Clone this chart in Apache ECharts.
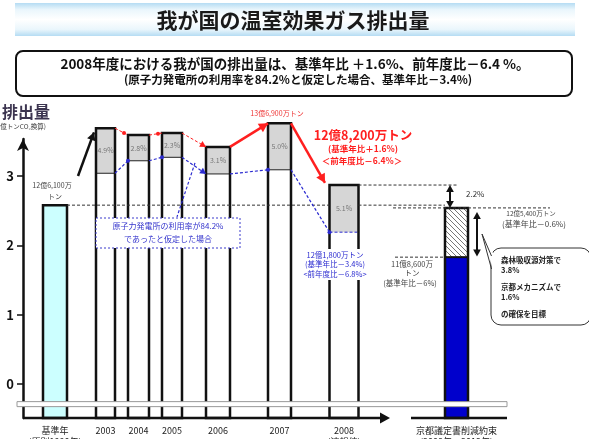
<!DOCTYPE html>
<html>
<head>
<meta charset="utf-8">
<script src="https://cdn.jsdelivr.net/npm/echarts@6/dist/echarts.min.js"></script>
<style>
html,body{margin:0;padding:0;background:#fff;}
#main{width:589px;height:439px;}
</style>
</head>
<body>
<div id="main"></div>
<script>
// data (axis units as printed on the chart)
var labels = ['基準年\n(原則1990年)', '2003', '2004', '2005', '2006', '2007', '2008\n(速報値)', '京都議定書削減約束\n(2008年～2012年)'];
var emis = [2.58, 3.69, 3.59, 3.62, 3.42, 3.76, 2.87, 2.54];          // bar tops
var adjusted = [null, 3.04, 3.22, 3.27, 3.03, 3.09, 2.19, null];     // 原子力84.2%の場合
var pct = ['', '4.9%', '2.8%', '2.3%', '3.1%', '5.0%', '5.1%', ''];
var kyotoBlue = 1.83;
var yTicks = [0, 1, 2, 3];

// layout
var slot = [3.2, 8.25, 11.55, 14.9, 19.5, 25.65, 32.1, 43.35];
var barW = [2.4, 1.9, 2.1, 2.0, 2.4, 2.3, 2.9, 2.3];
var Y_MIN = -0.49, Y_MAX = 3.534;
var FONT = '"Noto Sans CJK JP"';
var RED = '#ff1f1f', BLUE = '#2b2bd0';

function L(i){ return slot[i] - barW[i] / 2; }
function R(i){ return slot[i] + barW[i] / 2; }

// hatch pattern
var hc = document.createElement('canvas');
hc.width = 5; hc.height = 5;
var hx = hc.getContext('2d');
hx.fillStyle = '#fff'; hx.fillRect(0, 0, 5, 5);
hx.strokeStyle = '#777'; hx.lineWidth = 1;
hx.beginPath(); hx.moveTo(0, 0); hx.lineTo(5, 5); hx.moveTo(-1, 4); hx.lineTo(1, 6); hx.moveTo(4, -1); hx.lineTo(6, 1); hx.stroke();
var hatch = { image: hc, repeat: 'repeat' };

function arrowHead(tip, from, size, color){
  var dx = tip[0] - from[0], dy = tip[1] - from[1];
  var len = Math.sqrt(dx * dx + dy * dy);
  var ux = dx / len, uy = dy / len;
  var bx = tip[0] - ux * size, by = tip[1] - uy * size;
  var px = -uy * size * 0.55, py = ux * size * 0.55;
  return { type: 'polygon', shape: { points: [tip, [bx + px, by + py], [bx - px, by - py]] }, style: { fill: color } };
}
function seg(a, b, color, w, dash){
  return { type: 'line', shape: { x1: a[0], y1: a[1], x2: b[0], y2: b[1] }, style: { stroke: color, lineWidth: w, lineDash: dash || null } };
}
function dot(p, color){
  return { type: 'circle', shape: { cx: p[0], cy: p[1], r: 2 }, style: { fill: color } };
}

function barItem(params, api){
  var i = api.value(0);
  var p0 = api.coord([L(i), Y_MIN]);
  var p1 = api.coord([R(i), emis[i]]);
  var x = p0[0], w = p1[0] - p0[0], yb = p0[1], yt = p1[1];
  var kids = [];
  if (i === 0) {
    kids.push({ type: 'rect', shape: { x: x, y: yt, width: w, height: yb - yt }, style: { fill: '#ccffff' } });
  } else if (i === 7) {
    var ym = api.coord([0, kyotoBlue])[1];
    kids.push({ type: 'rect', shape: { x: x, y: yt, width: w, height: ym - yt }, style: { fill: hatch } });
    kids.push({ type: 'rect', shape: { x: x, y: ym, width: w, height: yb - ym }, style: { fill: '#0000cc' } });
    kids.push(seg([x, ym], [x + w, ym], '#111', 2));
  } else {
    var ya = api.coord([0, adjusted[i]])[1];
    kids.push({ type: 'rect', shape: { x: x, y: yt, width: w, height: yb - yt }, style: { fill: '#fff' } });
    kids.push({ type: 'rect', shape: { x: x, y: yt, width: w, height: ya - yt }, style: { fill: '#d6d6d6' } });
    if (i === 6) kids.push(seg([x, ya], [x + w, ya], BLUE, 1, [3, 2]));
    else kids.push(seg([x, ya], [x + w, ya], '#222', 1));
    kids.push({ type: 'text', x: x + w / 2, y: (yt + ya) / 2, style: { text: pct[i], fill: '#777', font: '7px ' + FONT, align: 'center', verticalAlign: 'middle' } });
  }
  kids.push({ type: 'rect', shape: { x: x, y: yt, width: w, height: yb - yt }, style: { fill: 'none', stroke: '#111', lineWidth: 2.5 } });
  return { type: 'group', children: kids };
}

function annoItem(params, api){
  var c = function(xv, yv){ return api.coord([xv, yv]); };
  var k = [];
  // dashed reference levels
  k.push(seg(c(R(0), emis[0]), c(L(6), emis[0]), '#333', 1, [3, 2]));
  k.push(seg(c(R(6), emis[0]), c(42.2, emis[0]), '#333', 1, [3, 2]));
  k.push(seg(c(R(6), emis[6]), c(43.5, emis[6]), '#333', 1, [3, 2]));
  k.push(seg(c(37.0, emis[7]), c(52.7, emis[7]), '#333', 1, [3, 2]));
  k.push(seg(c(37.2, kyotoBlue), c(L(7), kyotoBlue), '#333', 1, [3, 2]));
  // red connectors (actual emissions)
  for (var i = 1; i <= 5; i++) {
    var a = c(R(i), emis[i]), b = c(L(i + 1), emis[i + 1]);
    if (i <= 2) { k.push(seg(a, b, RED, 1, [3, 2])); k.push(dot([b[0] - 4, b[1] - (b[1] - a[1]) * 0.3], RED)); }
    else if (i === 3) { k.push(seg(a, b, RED, 1, [3, 2])); k.push(arrowHead(b, a, 6, RED)); }
    else {
      if (i === 5) b = c(L(6) - 0.45, emis[6] + 0.03);
      k.push(seg(a, b, RED, 2.5)); k.push(arrowHead(b, a, 9, RED));
    }
  }
  // blue connectors (nuclear 84.2% case)
  for (var j = 1; j <= 5; j++) {
    var a2 = c(R(j), adjusted[j]), b2 = c(L(j + 1), adjusted[j + 1]);
    k.push(seg(a2, b2, BLUE, 1.2, [3, 2]));
    if (j === 3) k.push(arrowHead(b2, a2, 6, BLUE));
    else k.push(dot(b2, BLUE));
  }
  // pointer from note box
  k.push(seg(c(17.2, 3.19), c(15.4, 2.41), BLUE, 1.2, [3, 2]));
  // black arrow base year -> 2003
  var s0 = c(5.5, 3.0), s1 = c(7.1, emis[1] - 0.06);
  k.push(seg(s0, s1, '#111', 2.5)); k.push(arrowHead(s1, s0, 8, '#111'));
  // double arrows at Kyoto
  var d1 = c(42.7, emis[6]), d2 = c(42.7, emis[7]);
  k.push(seg([d1[0], d1[1] + 5], [d2[0], d2[1] - 5], '#111', 2));
  k.push(arrowHead(d1, d2, 7, '#111')); k.push(arrowHead(d2, d1, 7, '#111'));
  var e1 = c(45.4, emis[7] - 0.06), e2 = c(45.4, kyotoBlue + 0.01);
  k.push(seg([e1[0], e1[1] + 5], [e2[0], e2[1] - 5], '#111', 2));
  k.push(arrowHead(e1, e2, 7, '#111')); k.push(arrowHead(e2, e1, 7, '#111'));
  // axis break band
  var bl = c(-0.6, -0.29), br = c(48.4, -0.29);
  k.push({ type: 'rect', shape: { x: bl[0], y: bl[1] - 2.5, width: br[0] - bl[0], height: 5 }, style: { fill: '#fff', stroke: '#999', lineWidth: 1 } });
  // x axis lines
  var x0 = c(0, Y_MIN), x1 = c(36.7, Y_MIN);
  k.push(seg(x0, [x1[0] - 6, x1[1]], '#111', 2.5)); k.push(arrowHead(x1, x0, 10, '#111'));
  k.push(seg(c(38.8, Y_MIN), c(48.4, Y_MIN), '#111', 2.5));
  return { type: 'group', children: k };
}

var chart = echarts.init(document.getElementById('main'));
var T = function(x, y, text, size, color, opt){
  var st = { text: text, font: (opt && opt.bold ? 'bold ' : '') + size + 'px ' + FONT, fill: color, align: (opt && opt.align) || 'center', verticalAlign: 'middle' };
  return { type: 'text', x: x, y: y, z: 100, style: st };
};
var option = {
  animation: false,
  textStyle: { fontFamily: FONT },
  grid: { left: 23, right: 82, top: 139, bottom: 21, outerBoundsMode: 'none', containLabel: false },
  xAxis: {
    type: 'value', min: 0, max: 48.4,
    axisLine: { show: false }, axisTick: { show: false }, splitLine: { show: false },
    axisLabel: {
      customValues: slot, margin: 7, fontSize: 9, lineHeight: 11, color: '#222',
      formatter: function(v){
        for (var i = 0; i < slot.length; i++) if (Math.abs(slot[i] - v) < 1e-6) return labels[i];
        return '';
      }
    }
  },
  yAxis: {
    type: 'value', min: Y_MIN, max: Y_MAX,
    splitLine: { show: false },
    axisLine: { show: true, symbol: ['none', 'arrow'], symbolSize: [9, 12], lineStyle: { color: '#111', width: 2.5 } },
    axisTick: { customValues: yTicks, length: 6, lineStyle: { color: '#111', width: 1.5 } },
    axisLabel: { customValues: yTicks, margin: 9, fontSize: 13, fontWeight: 'bold', color: '#111' }
  },
  series: [
    { type: 'custom', renderItem: barItem, data: emis.map(function(v, i){ return [i]; }), clip: false, z: 2, silent: true },
    { type: 'custom', renderItem: annoItem, data: [[0]], clip: false, z: 3, silent: true }
  ],
  graphic: [
    { type: 'rect', z: 100, shape: { x: 15, y: 3, width: 560, height: 33 }, style: { fill: new echarts.graphic.LinearGradient(0, 0, 0, 1, [
      { offset: 0, color: '#b5dcf3' }, { offset: 0.2, color: '#eaf6fc' }, { offset: 0.5, color: '#ffffff' }, { offset: 0.8, color: '#eaf6fc' }, { offset: 1, color: '#b5dcf3' }]) } },
    T(293, 20, '我が国の温室効果ガス排出量', 21, '#1a1a1a', { bold: true }),
    { type: 'rect', z: 100, shape: { x: 16, y: 51, width: 556, height: 45, r: 7 }, style: { fill: '#fff', stroke: '#111', lineWidth: 2 } },
    T(295, 64, '2008年度における我が国の排出量は、基準年比 ＋1.6%、前年度比－6.4 %。', 13.5, '#111', { bold: true }),
    T(298, 80, '(原子力発電所の利用率を84.2%と仮定した場合、基準年比－3.4%)', 11.5, '#111', { bold: true }),
    T(2, 112, '排出量', 16, '#3c3550', { bold: true, align: 'left' }),
    T(-2, 127, '(億トンCO₂換算)', 6.5, '#333', { align: 'left' }),
    T(52, 185, '12億6,100万', 7, '#444'),
    T(55, 196, 'トン', 7, '#444'),
    T(277, 113, '13億6,900万トン', 7, '#ee3333'),
    T(363, 135, '12億8,200万トン', 12.5, RED, { bold: true }),
    T(363, 149, '(基準年比＋1.6%)', 8.5, RED, { bold: true }),
    T(362, 161, '＜前年度比－6.4%＞', 8.5, RED, { bold: true }),
    { type: 'rect', z: 100, shape: { x: 96, y: 218, width: 144, height: 30 }, style: { fill: '#fff', stroke: '#3a3acc', lineWidth: 1, lineDash: [2, 2] } },
    T(168, 226, '原子力発電所の利用率が84.2%', 8, '#3333cc'),
    T(168, 239, 'であったと仮定した場合', 8, '#3333cc'),
    { type: 'rect', z: 99, shape: { x: 305, y: 249, width: 60, height: 31 }, style: { fill: '#fff' } },
    T(335, 255, '12億1,800万トン', 7.5, BLUE),
    T(335, 264, '(基準年比－3.4%)', 7.5, BLUE),
    T(335, 274, '<前年度比－6.8%>', 7.5, BLUE),
    T(412, 264, '11億8,600万', 7.5, '#444'),
    T(412, 273, 'トン', 7.5, '#444'),
    T(410, 283, '(基準年比－6%)', 7.5, '#444'),
    T(466, 194, '2.2%', 8, '#333', { align: 'left' }),
    T(531, 214, '12億5,400万トン', 6.5, '#444'),
    T(534, 224, '(基準年比－0.6%)', 8, '#444'),
    { type: 'rect', z: 100, shape: { x: 491, y: 248, width: 100, height: 77, r: 10 }, style: { fill: '#fff', stroke: '#333', lineWidth: 1 } },
    { type: 'polygon', z: 101, shape: { points: [[482, 234], [493.5, 254], [493.5, 271]] }, style: { fill: '#fff' } },
    { type: 'polyline', z: 101, shape: { points: [[491.5, 256], [482, 234], [491.5, 269]] }, style: { stroke: '#333', lineWidth: 1, fill: null } },
    T(501, 260, '森林吸収源対策で', 7.5, '#222', { bold: true, align: 'left' }),
    T(501, 270, '3.8%', 7.5, '#222', { bold: true, align: 'left' }),
    T(501, 287, '京都メカニズムで', 7.5, '#222', { bold: true, align: 'left' }),
    T(501, 297, '1.6%', 7.5, '#222', { bold: true, align: 'left' }),
    T(501, 314, 'の確保を目標', 7.5, '#222', { bold: true, align: 'left' })
  ]
};
chart.setOption(option);
</script>
</body>
</html>
